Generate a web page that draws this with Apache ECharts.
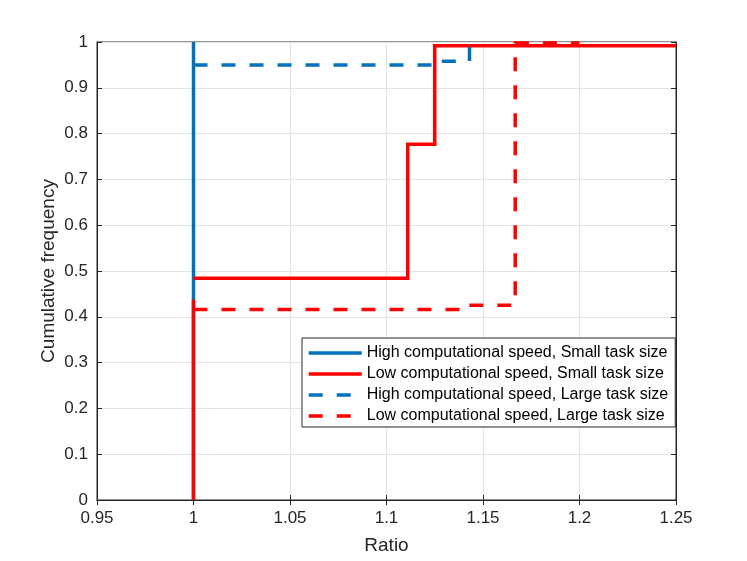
<!DOCTYPE html>
<html>
<head>
<meta charset="utf-8">
<script src="https://cdn.jsdelivr.net/npm/echarts@6/dist/echarts.min.js"></script>
<style>
  html, body { margin: 0; padding: 0; background: #fff; }
  #chart { width: 747px; height: 561px; }
</style>
</head>
<body>
<div id="chart"></div>
<script>
// tick labels
var xTicks = [0.95, 1, 1.05, 1.1, 1.15, 1.2, 1.25];
var yTicks = [0, 0.1, 0.2, 0.3, 0.4, 0.5, 0.6, 0.7, 0.8, 0.9, 1];

var seriesNames = [
	"High computational speed, Small task size",
	"Low computational speed, Small task size",
	"High computational speed, Large task size",
	"Low computational speed, Large task size"
];

// staircase points ('-' = break in the line)
var highSmallX = [1, 1];
var highSmallY = [0, 1];

var lowSmallX = [1, 1, 1, 1, 1.111, 1.111, 1.125, 1.125, 1.25];
var lowSmallY = [0, 0.438, '-', 0.484, 0.484, 0.777, 0.777, 0.992, 0.992];

var highLargeX = [1, 1.124, 1.124, 1.143, 1.143];
var highLargeY = [0.950, 0.950, 0.958, 0.958, 0.99];

var lowLargeX = [1, 1.142, 1.142, 1.1667, 1.1667, 1.2];
var lowLargeY = [0.416, 0.416, 0.425, 0.425, 0.998, 0.998];

var blue = "#0072BD";
var red = "#FF0000";
var ink = "#262626";

function pairs(xs, ys) {
	var out = [];
	for (var i = 0; i < xs.length; i++) {
		out.push([xs[i], ys[i]]);
	}
	return out;
}

function stairs(name, xs, ys, color, dashed) {
	return {
		name : name,
		type : 'line',
		data : pairs(xs, ys),
		symbol : 'none',
		showSymbol : false,
		connectNulls : false,
		clip : false,
		animation : false,
		lineStyle : {
			color : color,
			width : 3.5,
			type : dashed ? [14, 14] : 'solid',
			cap : 'butt',
			join : 'miter'
		},
		itemStyle : { color : color }
	};
}

var myChart = echarts.init(document.getElementById('chart'));

var font = "'Liberation Sans', Arial, Helvetica, sans-serif";

function tickText(list) {
	return function(v) {
		var t = list.filter(function(k) { return Math.abs(k - v) < 1e-9; });
		return t.length ? String(t[0]) : '';
	};
}

myChart.setOption({
	backgroundColor : '#fff',
	animation : false,
	textStyle : { fontFamily : font },
	grid : {
		left : 97,
		right : 71,
		top : 42,
		bottom : 61,
		show : true,
		borderColor : ink,
		borderWidth : 1,
		backgroundColor : '#fff'
	},
	legend : {
		orient : 'vertical',
		left : 302,
		top : 338,
		padding : [7, 7, 3, 5],
		itemGap : 5,
		itemWidth : 53,
		itemHeight : 14,
		borderColor : ink,
		borderWidth : 1,
		borderRadius : 0,
		backgroundColor : '#fff',
		itemStyle : { opacity : 0, borderWidth : 0 },
		lineStyle : { width : 3.5 },
		textStyle : { fontFamily : font, fontSize : 16, color : '#000' },
		data : seriesNames
	},
	xAxis : [ {
		type : 'value',
		min : 0.95,
		max : 1.25,
		interval : 0.05,
		name : 'Ratio',
		nameLocation : 'middle',
		nameGap : 36,
		nameMoveOverlap : false,
		nameTextStyle : { fontSize : 19, color : ink, fontFamily : font },
		axisLine : { show : true, lineStyle : { color : ink, width : 1 } },
		axisTick : { show : true, inside : true, length : 5, lineStyle : { color : ink } },
		axisLabel : { fontSize : 17, color : ink, margin : 10, formatter : tickText(xTicks) },
		splitLine : { show : true, lineStyle : { color : '#e3e3e3', width : 1 } }
	}, {
		type : 'value',
		position : 'top',
		min : 0.95,
		max : 1.25,
		interval : 0.05,
		axisLine : { show : true, lineStyle : { color : ink } },
		axisTick : { show : true, inside : true, length : 5, lineStyle : { color : ink } },
		axisLabel : { show : false },
		splitLine : { show : false }
	} ],
	yAxis : [ {
		type : 'value',
		min : 0,
		max : 1,
		interval : 0.1,
		name : 'Cumulative frequency',
		nameLocation : 'middle',
		nameGap : 39,
		nameMoveOverlap : false,
		nameTextStyle : { fontSize : 19, color : ink, fontFamily : font },
		axisLine : { show : true, lineStyle : { color : ink, width : 1 } },
		axisTick : { show : true, inside : true, length : 5, lineStyle : { color : ink } },
		axisLabel : { fontSize : 17, color : ink, margin : 9, formatter : tickText(yTicks) },
		splitLine : { show : true, lineStyle : { color : '#e3e3e3', width : 1 } }
	}, {
		type : 'value',
		position : 'right',
		min : 0,
		max : 1,
		interval : 0.1,
		axisLine : { show : true, lineStyle : { color : ink } },
		axisTick : { show : true, inside : true, length : 5, lineStyle : { color : ink } },
		axisLabel : { show : false },
		splitLine : { show : false }
	} ],
	series : [
		stairs(seriesNames[0], highSmallX, highSmallY, blue, false),
		stairs(seriesNames[1], lowSmallX, lowSmallY, red, false),
		stairs(seriesNames[2], highLargeX, highLargeY, blue, true),
		stairs(seriesNames[3], lowLargeX, lowLargeY, red, true)
	]
});
</script>
</body>
</html>
